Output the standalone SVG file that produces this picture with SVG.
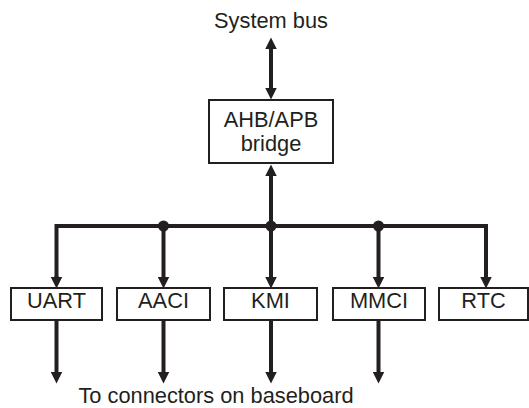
<svg xmlns="http://www.w3.org/2000/svg" width="529" height="408" viewBox="0 0 529 408">
  <style>
    .box { fill: #ffffff; stroke: #231f20; stroke-width: 2; }
    .lbl { font-family: "Liberation Sans", Arial, sans-serif; font-size: 21.8px; fill: #231f20; text-anchor: middle; }
    .wire { fill: none; stroke: #231f20; stroke-width: 4; stroke-linejoin: miter; }
    .arr { marker-end: url(#head); }
    .dot { fill: #231f20; }
  </style>
  <defs>
    <marker id="head" markerUnits="userSpaceOnUse" markerWidth="12" markerHeight="12" refX="5" refY="5.5" orient="auto-start-reverse" viewBox="0 0 11 11">
      <path d="M0,0 L11,5.5 L0,11 z" fill="#231f20"/>
    </marker>
  </defs>

  <rect width="529" height="408" fill="#ffffff"/>

  <!-- connectors -->
  <g id="connectors">
    <!-- system bus to bridge, bidirectional -->
    <line class="wire" x1="271" y1="44" x2="271" y2="93" marker-start="url(#head)" marker-end="url(#head)"/>
    <!-- APB bus up to bridge -->
    <line class="wire arr" x1="271" y1="226" x2="271" y2="171"/>
    <!-- APB bus distribution -->
    <path class="wire" d="M56.5,282 V226 H486 V282"/>
    <line class="wire arr" x1="163.5" y1="226" x2="163.5" y2="282"/>
    <line class="wire arr" x1="271" y1="226" x2="271" y2="282"/>
    <line class="wire arr" x1="378.5" y1="226" x2="378.5" y2="282"/>
    <line class="wire" x1="56.5" y1="276" x2="56.5" y2="282" marker-end="url(#head)"/>
    <line class="wire" x1="486" y1="276" x2="486" y2="282" marker-end="url(#head)"/>
    <circle class="dot" cx="163.5" cy="226" r="5.5"/>
    <circle class="dot" cx="271" cy="226" r="5.5"/>
    <circle class="dot" cx="378.5" cy="226" r="5.5"/>
    <!-- outputs to baseboard connectors -->
    <line class="wire arr" x1="56.5" y1="321" x2="56.5" y2="377"/>
    <line class="wire arr" x1="163.5" y1="321" x2="163.5" y2="377"/>
    <line class="wire arr" x1="271" y1="321" x2="271" y2="377"/>
    <line class="wire arr" x1="378.5" y1="321" x2="378.5" y2="377"/>
  </g>

  <text class="lbl" x="271" y="28">System bus</text>

  <g id="bridge">
    <rect class="box" x="209" y="100" width="124" height="63"/>
    <text class="lbl" x="271" y="127">AHB/APB</text>
    <text class="lbl" x="271" y="151">bridge</text>
  </g>

  <g id="uart">
    <rect class="box" x="11" y="288" width="91" height="32"/>
    <text class="lbl" x="56.5" y="308">UART</text>
  </g>
  <g id="aaci">
    <rect class="box" x="117" y="288" width="93" height="32"/>
    <text class="lbl" x="163.5" y="308">AACI</text>
  </g>
  <g id="kmi">
    <rect class="box" x="224" y="288" width="93" height="32"/>
    <text class="lbl" x="270.5" y="308">KMI</text>
  </g>
  <g id="mmci">
    <rect class="box" x="333" y="288" width="92" height="32"/>
    <text class="lbl" x="379" y="308">MMCI</text>
  </g>
  <g id="rtc">
    <rect class="box" x="439" y="288" width="89" height="32"/>
    <text class="lbl" x="483.5" y="308">RTC</text>
  </g>

  <text class="lbl" x="216" y="403">To connectors on baseboard</text>
</svg>
